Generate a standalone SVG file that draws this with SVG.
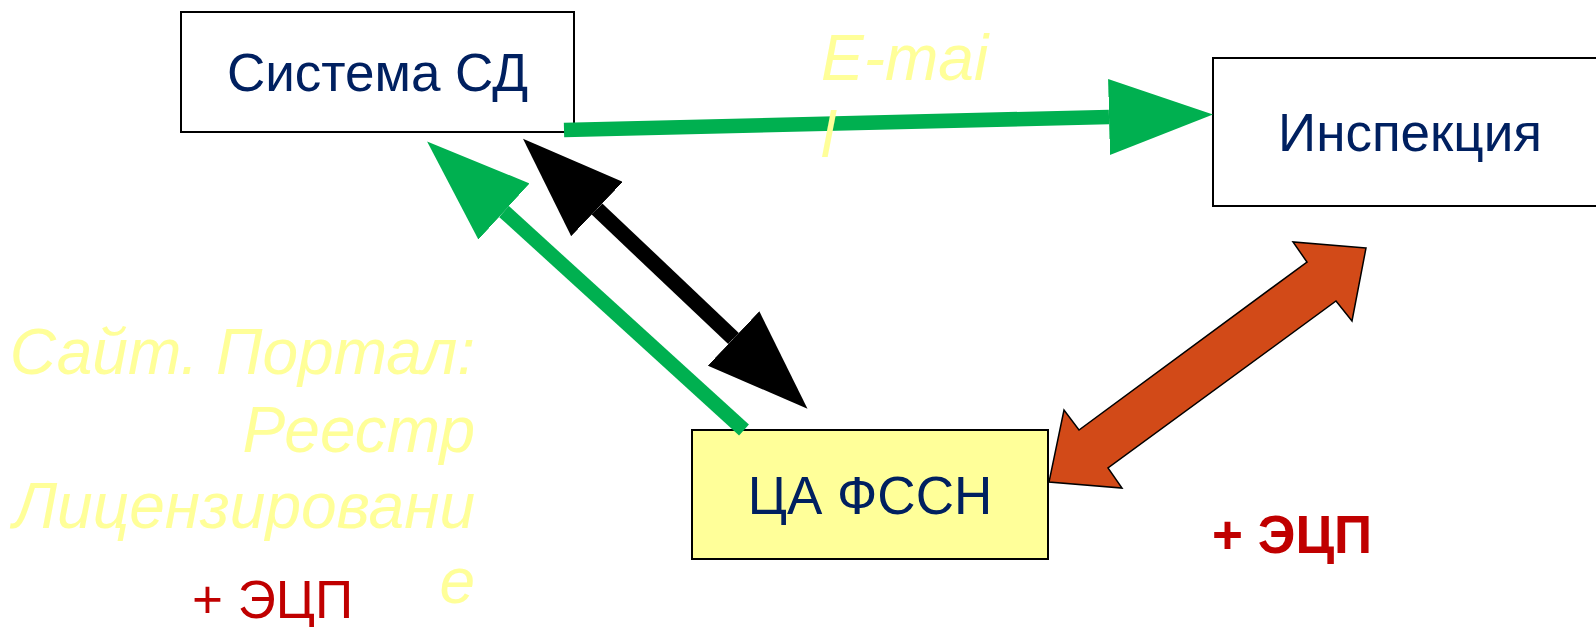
<svg xmlns="http://www.w3.org/2000/svg" width="1596" height="627" viewBox="0 0 1596 627">
  <style>
    .box { stroke: #000; stroke-width: 2; }
    .label { font-family: "Liberation Sans", Arial, sans-serif; font-size: 53px; fill: #002060; text-anchor: middle; }
    .note { font-family: "Liberation Sans", Arial, sans-serif; font-size: 64px; font-style: italic; fill: #FFFF99; }
    .sign { font-family: "Liberation Sans", Arial, sans-serif; font-size: 53px; fill: #C00000; }
    .flow-green { stroke: #00B050; stroke-width: 14.6; fill: none; stroke-linecap: butt; }
    .flow-black { stroke: #000; stroke-width: 15.5; fill: none; stroke-linecap: butt; }
  </style>
  <defs>
    <marker id="head-green" markerUnits="userSpaceOnUse" markerWidth="104" markerHeight="76" viewBox="0 0 104 76" refX="0" refY="38" orient="auto-start-reverse">
      <path d="M0,0 L104,38 L0,76 z" fill="#00B050"/>
    </marker>
    <marker id="head-black" markerUnits="userSpaceOnUse" markerWidth="102" markerHeight="75" viewBox="0 0 102 75" refX="0" refY="37.5" orient="auto-start-reverse">
      <path d="M0,0 L102,37.5 L0,75 z" fill="#000"/>
    </marker>
  </defs>

  <rect width="1596" height="627" fill="#fff"/>

  <!-- Nodes -->
  <g id="node-sistema-sd">
    <rect class="box" x="181" y="12" width="393" height="120" fill="#fff" stroke-width="1.5"/>
    <text class="label" x="377.5" y="91">Система СД</text>
  </g>

  <g id="node-inspektsiya">
    <rect class="box" x="1213" y="58" width="400" height="148" fill="#fff"/>
    <text class="label" x="1410" y="151">Инспекция</text>
  </g>

  <g id="node-ca-fssn">
    <rect class="box" x="692" y="430" width="356" height="129" fill="#FFFF99"/>
    <text class="label" x="870" y="514">ЦА ФССН</text>
  </g>

  <!-- Connectors -->
  <g id="connectors">
    <!-- E-mail: Система СД -> Инспекция -->
    <line class="flow-green" x1="564" y1="130" x2="1109" y2="117" marker-end="url(#head-green)"/>
    <!-- Portal: ЦА ФССН -> Система СД -->
    <line class="flow-green" x1="744" y1="430" x2="504" y2="211.5" marker-end="url(#head-green)"/>
    <!-- Two-way exchange: Система СД <-> ЦА ФССН -->
    <line class="flow-black" x1="597" y1="209" x2="733.5" y2="338.5" marker-start="url(#head-black)" marker-end="url(#head-black)"/>
    <!-- Signed exchange: ЦА ФССН <-> Инспекция -->
    <polygon points="1366,248 1293,242 1307,262 1079,430 1064,410 1049,482 1122,488 1108,468 1336,301 1352,321" fill="#D24A18" stroke="#000" stroke-width="1.5" stroke-linejoin="miter"/>
  </g>

  <!-- Labels -->
  <g id="label-email">
    <text class="note" x="821" y="80">E-mai</text>
    <text class="note" x="821" y="157">l</text>
  </g>

  <g id="label-portal" text-anchor="end">
    <text class="note" x="475" y="374">Сайт. Портал:</text>
    <text class="note" x="475" y="452">Реестр</text>
    <text class="note" x="475" y="528">Лицензировани</text>
    <text class="note" x="475" y="603">е</text>
  </g>

  <g id="label-signature">
    <text class="sign" x="192" y="618">+ ЭЦП</text>
    <text class="sign" x="1212" y="553" font-weight="bold">+ ЭЦП</text>
  </g>
</svg>
